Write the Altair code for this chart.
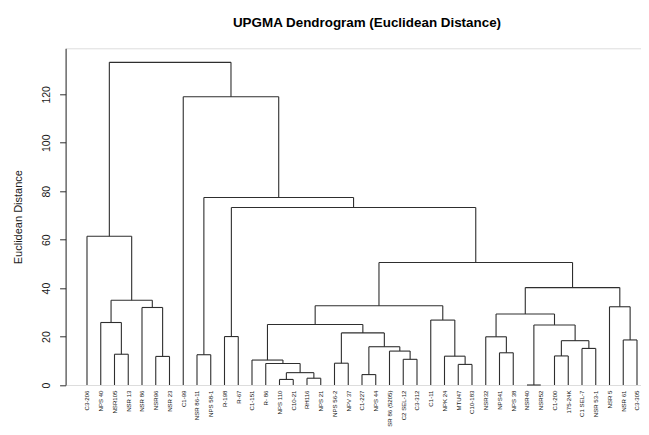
import json
import altair as alt
import pandas as pd

# ---------------- data ----------------
leaf_labels = [
    "C3-206", "NPS 40", "NSR105", "NSR 13", "NSR 86", "NSR96", "NSR 23",
    "C1-99", "NSR 86-11", "NPS 58-1", "R-198", "R-67", "C1-151", "R- 86",
    "NPS 110", "C10-21", "RH116", "NPS 21", "NPS 56-2", "NPV 37", "C1-227",
    "NPS 44", "SR 86 (5205)", "C2 SEL-12", "C3-312", "C1-11", "NPK 24",
    "MTU47", "C10-183", "NSR32", "NPS41", "NPS 38", "NSR40", "NSR52",
    "C1-200", "175-24K", "C1 SEL-7", "NSR 53-1", "NSR 5", "NSR 61", "C3-305",
]

# R-style merge table: negative = leaf (1-based), positive = earlier merge (1-based)
merge_left = [-33, -15, -17, -21, 2, -28, -14, -19, -13, -24,
              -6, -27, -35, -9, -3, -31, -23, -37, 4, 13,
              -40, -30, -11, 8, 1, 9, -2, -26, 22, -5,
              -39, 26, 27, 29, 32, -1, 23, 14, -8, 36]
merge_right = [-34, -16, -18, -22, 3, -29, 5, -20, 7, -25,
               -7, 6, -36, -10, -4, -32, 10, -38, 17, 18,
               -41, 16, -12, 19, 20, 24, 15, 12, 25, 11,
               21, 28, 30, 31, 34, 33, 35, 37, 38, 39]
merge_height = [0.0, 2.3, 2.8, 4.3, 5.1, 8.5, 8.9, 9.0, 10.3, 10.6,
                11.8, 11.9, 12.0, 12.5, 12.7, 13.3, 14.0, 15.1, 15.8, 18.3,
                18.6, 19.9, 20.0, 21.5, 24.8, 25.0, 25.8, 26.8, 29.3, 32.0,
                32.3, 32.7, 35.0, 40.2, 50.6, 61.4, 73.3, 77.4, 119.0, 133.2]

y_ticks = [0, 20, 40, 60, 80, 100, 120]

# ---------------- build dendrogram segments ----------------
merge_x = []


def node_pos(ref):
    if ref < 0:
        return float(-ref), 0.0
    return merge_x[ref - 1], merge_height[ref - 1]


rows = []
for l, r, h in zip(merge_left, merge_right, merge_height):
    xl, hl = node_pos(l)
    xr, hr = node_pos(r)
    merge_x.append((xl + xr) / 2.0)
    rows.append({"x": xl, "x2": xr, "y": h, "y2": h})
    rows.append({"x": xl, "x2": xl, "y": hl, "y2": h})
    rows.append({"x": xr, "x2": xr, "y": hr, "y2": h})

segs = pd.DataFrame(rows)

FONT = "Liberation Sans"
n = len(leaf_labels)
label_expr = json.dumps(leaf_labels) + "[datum.value - 1]"

x_scale = alt.Scale(domain=[-0.556, 41.291], nice=False, zero=False)
y_scale = alt.Scale(domain=[0, 139], nice=False, zero=False)

PLOT_W = 575.4
PLOT_H = 336.7
LINE = "#2e2e2e"

chart = alt.Chart(segs).mark_rule(color=LINE, strokeWidth=1.1).encode(
    x=alt.X(
        "x:Q",
        scale=x_scale,
        axis=alt.Axis(
            values=list(range(1, n + 1)),
            labelExpr=label_expr,
            labelAngle=270,
            labelAlign="right",
            labelBaseline="middle",
            labelFont=FONT,
            labelFontSize=6.1,
            labelColor="#1a1a1a",
            labelPadding=5,
            labelOverlap=False,
            labelFlush=False,
            labelBound=False,
            ticks=False,
            domain=False,
            grid=False,
            title=None,
        ),
    ),
    x2="x2:Q",
    y=alt.Y(
        "y:Q",
        scale=y_scale,
        axis=alt.Axis(
            values=y_ticks,
            tickSize=6,
            tickColor=LINE,
            domainColor=LINE,
            labelAngle=270,
            labelAlign="center",
            labelBaseline="middle",
            labelFont=FONT,
            labelFontSize=10.5,
            labelColor="#1a1a1a",
            labelPadding=13,
            grid=False,
            title="Euclidean Distance",
            titleFont=FONT,
            titleFontSize=11,
            titleFontWeight="normal",
            titleColor="#1a1a1a",
            titleAngle=270,
            titleAlign="center",
            titleBaseline="middle",
            titleX=-47,
            titleY=PLOT_H / 2,
        ),
    ),
    y2="y2:Q",
).properties(
    width=PLOT_W,
    height=PLOT_H,
    title=alt.TitleParams(
        "UPGMA Dendrogram (Euclidean Distance)",
        font=FONT,
        fontSize=13.4,
        fontWeight="bold",
        color="#000000",
        anchor="middle",
        frame="group",
        offset=19,
        dx=13.7,
    ),
    autosize=alt.AutoSizeParams(type="none"),
    padding={"left": 57.6, "top": 40.3, "right": 0, "bottom": 41.5},
).configure_view(stroke=None).configure(background="white")

chart.save("out.html", embed_options={"renderer": "svg", "actions": False})
